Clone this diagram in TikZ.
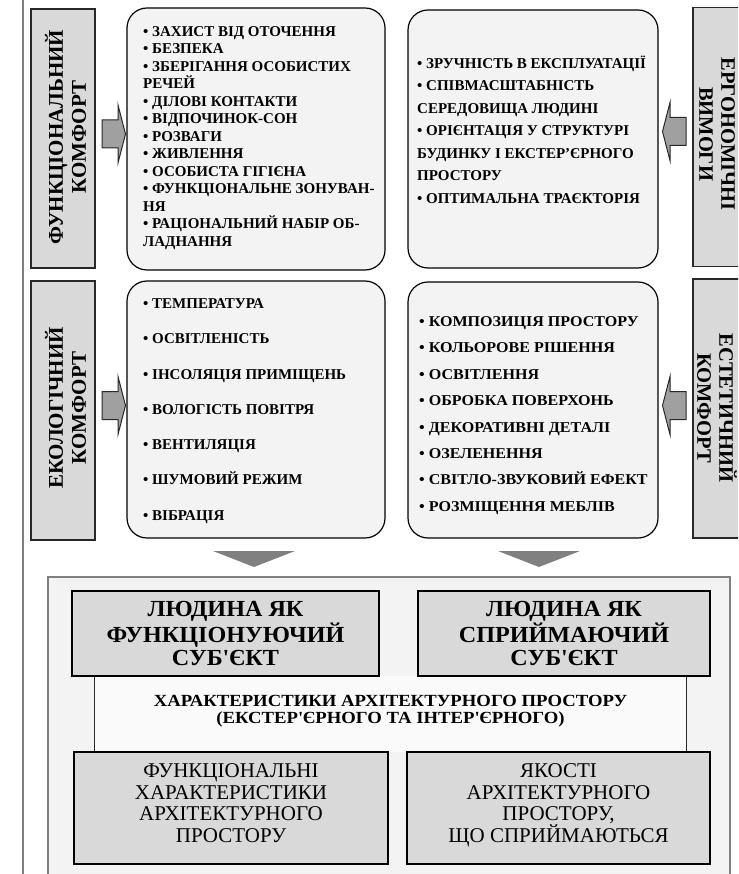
\documentclass[tikz,border=0pt]{standalone}
\usepackage{fontspec}
\setmainfont{Liberation Serif}
\newfontfamily\spacedfont{Liberation Serif}[FakeStretch=1.07]
\newfontfamily\widefont{Liberation Serif}[FakeStretch=1.05]
\newfontfamily\bandfont{Liberation Serif}[FakeStretch=1.1]
\usetikzlibrary{positioning,calc}
\definecolor{labgray}{RGB}{217,217,217}
\definecolor{listgray}{RGB}{243,243,243}
\definecolor{arrgray}{RGB}{160,160,160}
\definecolor{trigray}{RGB}{128,128,128}
\definecolor{framegray}{RGB}{128,128,128}
\definecolor{bandwhite}{RGB}{250,250,250}
\definecolor{edgedark}{RGB}{40,40,40}
\tikzset{
  labelbox/.style={draw=edgedark,line width=1.4pt,fill=labgray,minimum width=259pt,minimum height=64pt,align=center,inner sep=0pt,font=\fontsize{21}{23}\selectfont\bfseries},
  listbox/.style={draw=black,line width=1.2pt,fill=listgray,rounded corners=20pt,inner sep=0pt},
  listtext/.style={anchor=west,align=left,inner sep=0pt,font=\fontsize{15}{#1}\selectfont\bfseries},
  arrowbody/.style={draw=edgedark,line width=1pt,fill=arrgray,line join=miter},
  blockarrow/.pic={\path[arrowbody] (0,-14) -- (16,-14) -- (16,-29) -- (23.5,0) -- (16,29) -- (16,14) -- (0,14) -- cycle;},
  subject/.style={draw=black,line width=2pt,fill=labgray,align=center,inner sep=0pt,font=\widefont\fontsize{23}{23.5}\selectfont\bfseries},
  quality/.style={draw=black,line width=2pt,fill=labgray,align=center,inner sep=0pt,text depth=10pt,font=\fontsize{21}{21.7}\selectfont},
  bandline/.style={draw=edgedark,line width=0.8pt},
  funnel/.style={fill=trigray}
}
\begin{document}
\begin{tikzpicture}[x=1pt,y=-1pt]
\path[use as bounding box] (0,0) rectangle (738,874);
\clip (0,0) rectangle (738,874);
\draw[framegray,line width=2pt] (23,-5) -- (23,880);
% upper part: four groups of requirements
\node[labelbox,rotate=90] (funclab) at (63,138.5) {};
\node[labelbox,rotate=90] (ecolab) at (63,410.5) {};
\node[labelbox,rotate=90,draw=none,fill=none] (funclabtext) at (65.5,137) {ФУНКЦІОНАЛЬНИЙ\\КОМФОРТ};
\node[labelbox,rotate=90,draw=none,fill=none] (ecolabtext) at (65.5,408) {ЕКОЛОГІЧНИЙ\\КОМФОРТ};
\node[labelbox,rotate=-90,minimum height=52pt] (ergolab) at (719,137) {};
\node[labelbox,rotate=-90,minimum height=52pt] (estlab) at (719,408.5) {};
\node[labelbox,rotate=-90,draw=none,fill=none,font=\fontsize{20.5}{22}\selectfont\bfseries] (ergolabtext) at (717,134) {ЕРГОНОМІЧНІ\\ВИМОГИ};
\node[labelbox,rotate=-90,draw=none,fill=none,font=\fontsize{20.5}{22}\selectfont\bfseries] (estlabtext) at (717,408) {ЕСТЕТИЧНИЙ\\КОМФОРТ};
\node[listbox,minimum width=258pt,minimum height=262pt] (funcbox) at (256,139) {};
\node[listbox,minimum width=250pt,minimum height=258pt] (ergobox) at (533,139) {};
\node[listbox,minimum width=258pt,minimum height=257pt] (ecobox) at (256,409.5) {};
\node[listbox,minimum width=250pt,minimum height=256pt] (estbox) at (533,410) {};
\node[listtext=17.5] (funclist) at (143,138) {• ЗАХИСТ ВІД ОТОЧЕННЯ\\• БЕЗПЕКА\\• ЗБЕРІГАННЯ ОСОБИСТИХ\\РЕЧЕЙ\\• ДІЛОВІ КОНТАКТИ\\• ВІДПОЧИНОК-СОН\\• РОЗВАГИ\\• ЖИВЛЕННЯ\\• ОСОБИСТА ГІГІЄНА\\• ФУНКЦІОНАЛЬНЕ ЗОНУВАН-\\НЯ\\• РАЦІОНАЛЬНИЙ НАБІР ОБ-\\ЛАДНАННЯ};
\node[listtext=22.5] (ergolist) at (417,129.5) {• ЗРУЧНІСТЬ В ЕКСПЛУАТАЦІЇ\\• СПІВМАСШТАБНІСТЬ\\СЕРЕДОВИЩА ЛЮДИНІ\\• ОРІЄНТАЦІЯ У СТРУКТУРІ\\БУДИНКУ І ЕКСТЕР'ЄРНОГО\\ПРОСТОРУ\\• ОПТИМАЛЬНА ТРАЄКТОРІЯ};
\node[listtext=35.3] (ecolist) at (143,411) {• ТЕМПЕРАТУРА\\• ОСВІТЛЕНІСТЬ\\• ІНСОЛЯЦІЯ ПРИМІЩЕНЬ\\• ВОЛОГІСТЬ ПОВІТРЯ\\• ВЕНТИЛЯЦІЯ\\• ШУМОВИЙ РЕЖИМ\\• ВІБРАЦІЯ};
\node[listtext=26.4,font=\spacedfont\fontsize{15}{26.4}\selectfont\bfseries] (estlist) at (419,415.5) {• КОМПОЗИЦІЯ ПРОСТОРУ\\• КОЛЬОРОВЕ РІШЕННЯ\\• ОСВІТЛЕННЯ\\• ОБРОБКА ПОВЕРХОНЬ\\• ДЕКОРАТИВНІ ДЕТАЛІ\\• ОЗЕЛЕНЕННЯ\\• СВІТЛО-ЗВУКОВИЙ ЕФЕКТ\\• РОЗМІЩЕННЯ МЕБЛІВ};
\pic (funcarr) at (102,134) {blockarrow};
\pic (ecoarr) at (102,405.5) {blockarrow};
\pic[xscale=-1] (ergoarr) at (686,131.5) {blockarrow};
\pic[xscale=-1] (estarr) at (686,405.5) {blockarrow};
\fill[funnel] (213,551) -- (295,551) -- (254,567) -- cycle;
\fill[funnel] (498,551) -- (580,551) -- (539,567) -- cycle;
% lower part: characteristics of the space
\node[draw=framegray,line width=2pt,fill=listgray,minimum width=682pt,minimum height=330pt] (frame) at (389,742) {};
\node[fill=bandwhite,minimum width=591pt,minimum height=76pt,inner sep=0pt] (band) at (390.5,714) {};
\node[subject,minimum width=307pt,minimum height=85pt] (funcsubj) at (225.5,633.5) {ЛЮДИНА ЯК\\ФУНКЦІОНУЮЧИЙ\\СУБ\textquotesingle ЄКТ};
\node[subject,minimum width=292pt,minimum height=85pt] (percsubj) at (564,633.5) {ЛЮДИНА ЯК\\СПРИЙМАЮЧИЙ\\СУБ\textquotesingle ЄКТ};
\node[quality,minimum width=314pt,minimum height=112pt] (funcchar) at (231,808) {ФУНКЦІОНАЛЬНІ\\ХАРАКТЕРИСТИКИ\\АРХІТЕКТУРНОГО\\ПРОСТОРУ};
\node[quality,minimum width=303pt,minimum height=112pt] (percchar) at (558.5,808) {ЯКОСТІ\\АРХІТЕКТУРНОГО\\ПРОСТОРУ,\\ЩО СПРИЙМАЮТЬСЯ};
\node[align=center,inner sep=0pt,font=\bandfont\fontsize{17}{17.5}\selectfont\bfseries] (bandtext) at (390.5,711) {ХАРАКТЕРИСТИКИ АРХІТЕКТУРНОГО ПРОСТОРУ\\(ЕКСТЕР\textquotesingle ЄРНОГО ТА ІНТЕР\textquotesingle ЄРНОГО)};
\draw[bandline] (funcsubj.south -| band.west) -- (funcchar.north -| band.west);
\draw[bandline] (percsubj.south -| band.east) -- (percchar.north -| band.east);
\end{tikzpicture}
\end{document}
